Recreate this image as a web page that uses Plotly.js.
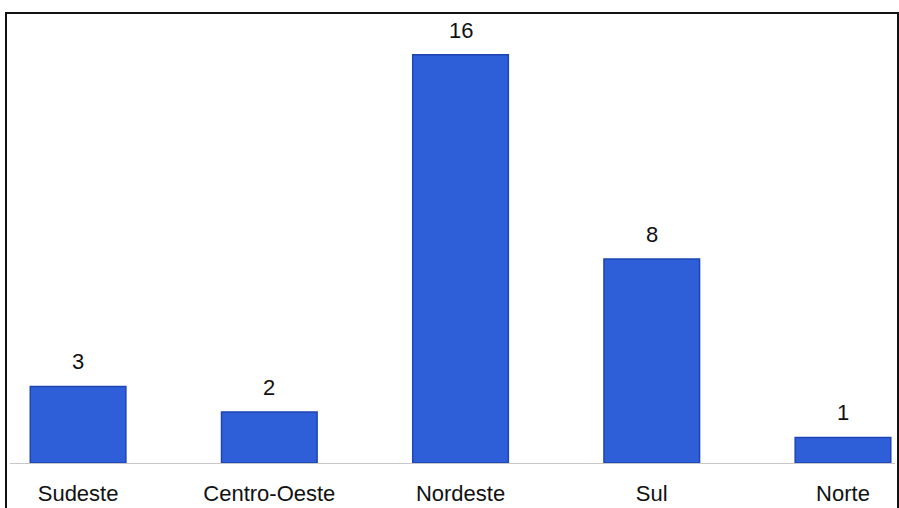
<!DOCTYPE html>
<html>
<head>
<meta charset="utf-8">
<script src="https://cdn.plot.ly/plotly-3.0.1.min.js"></script>
<style>
  html, body { margin: 0; padding: 0; background: #ffffff; }
  #wrap { position: relative; width: 899px; height: 508px; overflow: hidden; }
  #chart { position: absolute; left: 0; top: 0; width: 899px; height: 508px; }
  #frame { position: absolute; left: 5px; top: 12px; width: 890px; height: 500px;
           border: 2px solid #111; pointer-events: none; }
</style>
</head>
<body>
<div id="wrap">
  <div id="chart"></div>
  <div id="frame"></div>
</div>
<script>
const categories = ["Sudeste", "Centro-Oeste", "Nordeste", "Sul", "Norte"];
const values = [3, 2, 16, 8, 1];

const trace = {
  type: "bar",
  x: categories,
  y: values,
  width: 0.5,
  marker: { color: "#2f5fd8", line: { color: "#1d45b3", width: 1.5 } },
  hoverinfo: "none"
};

const annotations = categories.map((c, i) => ({
  x: c, y: values[i], xref: "x", yref: "y",
  text: String(values[i]),
  showarrow: false, yanchor: "bottom", yshift: 10,
  font: { family: "Arial, 'Liberation Sans', sans-serif", size: 22, color: "#111" }
}));

const layout = {
  width: 899, height: 508,
  margin: { l: 10, r: 4, t: 12, b: 45, pad: 0 },
  paper_bgcolor: "#ffffff", plot_bgcolor: "#ffffff",
  showlegend: false,
  bargap: 0.5,
  xaxis: {
    type: "category",
    range: [-0.356, 4.272],
    showgrid: false, zeroline: false,
    showline: true, linecolor: "#c8c8c8", linewidth: 1,
    ticks: "", ticklabelstandoff: 11,
    tickfont: { family: "Arial, 'Liberation Sans', sans-serif", size: 22, color: "#111" }
  },
  yaxis: {
    range: [0, 17.68],
    showgrid: false, zeroline: false, showline: false,
    showticklabels: false, ticks: ""
  },
  annotations: annotations
};

Plotly.newPlot("chart", [trace], layout, { displayModeBar: false, staticPlot: true });
</script>
</body>
</html>
